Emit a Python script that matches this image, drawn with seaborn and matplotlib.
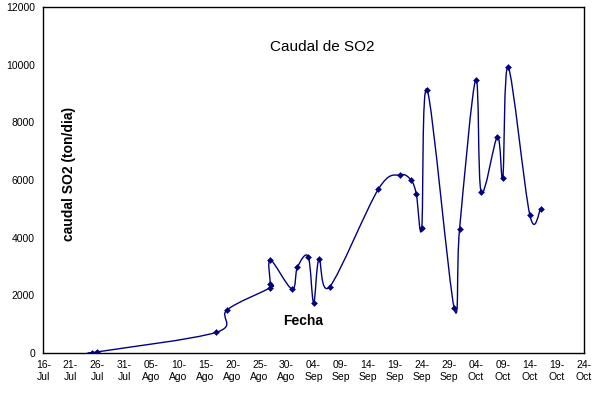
import numpy as np
import pandas as pd
import seaborn as sns
import matplotlib
matplotlib.use("Agg")
import matplotlib.pyplot as plt
import matplotlib.dates as mdates
from matplotlib.path import Path
from matplotlib.patches import PathPatch

# data
fechas = ['07-25', '07-26', '08-17', '08-19', '08-27', '08-27', '08-27',
          '08-31', '09-01', '09-03', '09-04', '09-05', '09-07', '09-16',
          '09-20', '09-22', '09-23', '09-24', '09-25', '09-30', '10-01',
          '10-04', '10-05', '10-08', '10-09', '10-10', '10-14', '10-16']
caudal = [0, 30, 710, 1490, 2260, 2380, 3230,
          2210, 2970, 3340, 1740, 3250, 2300, 5690,
          6180, 6000, 5510, 4330, 9140, 1550, 4300,
          9490, 5580, 7500, 6080, 9920, 4780, 5000]

tick_fechas = ['07-16', '07-21', '07-26', '07-31', '08-05', '08-10', '08-15',
               '08-20', '08-25', '08-30', '09-04', '09-09', '09-14', '09-19',
               '09-24', '09-29', '10-04', '10-09', '10-14', '10-19', '10-24']
tick_labels = ['16-\nJul', '21-\nJul', '26-\nJul', '31-\nJul', '05-\nAgo', '10-\nAgo',
               '15-\nAgo', '20-\nAgo', '25-\nAgo', '30-\nAgo', '04-\nSep', '09-\nSep',
               '14-\nSep', '19-\nSep', '24-\nSep', '29-\nSep', '04-\nOct', '09-\nOct',
               '14-\nOct', '19-\nOct', '24-\nOct']
y_ticks = [0, 2000, 4000, 6000, 8000, 10000, 12000]

sns.set_style('white')
plt.rcParams['font.family'] = ['Liberation Sans', 'DejaVu Sans']
plt.rcParams['text.color'] = 'black'
plt.rcParams['axes.labelcolor'] = 'black'

df = pd.DataFrame({'fecha': pd.to_datetime(['2003-' + f for f in fechas]),
                   'caudal': caudal})
df['x'] = mdates.date2num(df['fecha'])
ticks_x = mdates.date2num(pd.to_datetime(['2003-' + f for f in tick_fechas]))

fig = plt.figure(figsize=(5.96, 3.95), dpi=100)
ax = fig.add_axes([0.0727, 0.107, 0.907, 0.8745])

navy = '#000080'

# smoothed line (Excel-style Catmull-Rom bezier through the points)
pts = df[['x', 'caudal']].to_numpy(dtype=float)
n = len(pts)
verts = [tuple(pts[0])]
codes = [Path.MOVETO]
for i in range(n - 1):
    p0 = pts[max(i - 1, 0)]
    p1 = pts[i]
    p2 = pts[i + 1]
    p3 = pts[min(i + 2, n - 1)]
    c1 = p1 + (p2 - p0) / 6.0
    c2 = p2 - (p3 - p1) / 6.0
    verts += [tuple(c1), tuple(c2), tuple(p2)]
    codes += [Path.CURVE4] * 3
ax.add_patch(PathPatch(Path(verts, codes), facecolor='none', edgecolor=navy, lw=1.0))

sns.scatterplot(data=df, x='x', y='caudal', ax=ax, marker='D', s=9,
                color=navy, edgecolor=navy, linewidth=0.4, zorder=3)

ax.set_xlim(ticks_x[0], ticks_x[-1])
ax.set_ylim(0, 12000)
ax.set_xticks(ticks_x)
ax.set_xticklabels(tick_labels, fontsize=7.5, linespacing=1.3)
ax.set_yticks(y_ticks)
ax.set_yticklabels([str(v) for v in y_ticks], fontsize=7.5)
ax.tick_params(axis='x', direction='inout', length=6, width=1, pad=2,
               colors='black', labelcolor='black')
ax.tick_params(axis='y', direction='out', length=4, width=1, pad=2,
               colors='black', labelcolor='black')
ax.set_xlabel('')
ax.set_ylabel('')
for s in ax.spines.values():
    s.set_visible(True)
    s.set_color('black')
    s.set_linewidth(1)

fig.text(322 / 596, 1 - 47 / 395, 'Caudal de SO2', fontsize=11, color='black',
         ha='center', va='center')
fig.text(303 / 596, 1 - 321 / 395, 'Fecha', fontsize=10, fontweight='bold', color='black',
         ha='center', va='center')
fig.text(68.5 / 596, 1 - 174 / 395, 'caudal SO2 (ton/dia)', fontsize=10, fontweight='bold',
         color='black', rotation=90, ha='center', va='center')

fig.savefig('out.png', dpi=100)
